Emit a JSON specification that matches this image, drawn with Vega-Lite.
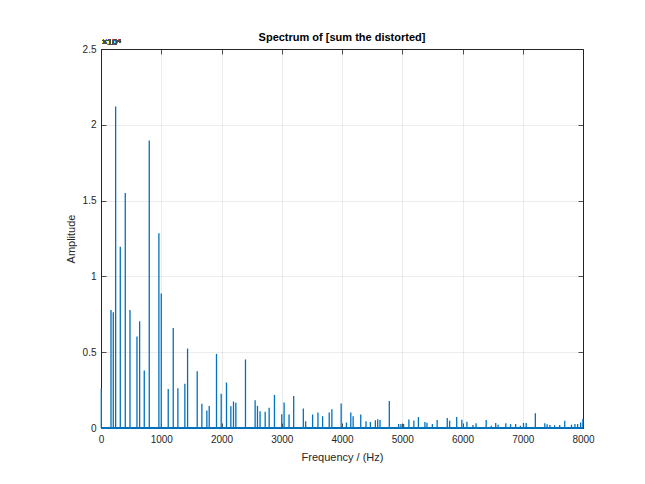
{
  "$schema": "https://vega.github.io/schema/vega-lite/v6.json",
  "width": 482,
  "height": 379,
  "autosize": "none",
  "padding": {"left": 101, "top": 49, "right": 62, "bottom": 56},
  "background": "white",
  "config": {
    "font": "Liberation Sans",
    "view": {"stroke": "#262626", "strokeWidth": 1},
    "axis": {
      "domain": false,
      "gridColor": "#262626",
      "gridOpacity": 0.15,
      "gridWidth": 0.6,
      "tickColor": "#262626",
      "tickSize": 5,
      "tickWidth": 0.8,
      "labelFlush": false,
      "labelColor": "#262626",
      "labelFont": "Liberation Sans",
      "labelFontSize": 10,
      "titleColor": "#262626",
      "titleFont": "Liberation Sans",
      "titleFontSize": 11,
      "titleFontWeight": "normal"
    },
    "title": {"font": "Liberation Sans", "fontSize": 11, "fontWeight": "bold", "color": "#000000"}
  },
  "title": {"text": "Spectrum of [sum the distorted]", "anchor": "middle", "offset": -5},
  "data": {
    "values": [
      {"f": 5, "a": 2600}, {"f": 166, "a": 7790}, {"f": 204, "a": 7630}, {"f": 243, "a": 21200},
      {"f": 320, "a": 11950}, {"f": 403, "a": 15500}, {"f": 481, "a": 7790}, {"f": 597, "a": 6030},
      {"f": 641, "a": 7040}, {"f": 718, "a": 3790}, {"f": 801, "a": 18970}, {"f": 961, "a": 12850},
      {"f": 1000, "a": 8880}, {"f": 1116, "a": 2570}, {"f": 1199, "a": 6600}, {"f": 1276, "a": 2630},
      {"f": 1392, "a": 2920}, {"f": 1437, "a": 5240}, {"f": 1597, "a": 3750}, {"f": 1674, "a": 1600},
      {"f": 1757, "a": 1160}, {"f": 1796, "a": 1450}, {"f": 1917, "a": 4890}, {"f": 1995, "a": 2260},
      {"f": 2083, "a": 3000}, {"f": 2155, "a": 1430}, {"f": 2199, "a": 1750}, {"f": 2238, "a": 1670},
      {"f": 2398, "a": 4520}, {"f": 2558, "a": 1830}, {"f": 2597, "a": 1460}, {"f": 2640, "a": 1100},
      {"f": 2725, "a": 1070}, {"f": 2791, "a": 1330}, {"f": 2879, "a": 2180}, {"f": 3000, "a": 910},
      {"f": 3039, "a": 1690}, {"f": 3121, "a": 890}, {"f": 3198, "a": 2110}, {"f": 3358, "a": 1290},
      {"f": 3397, "a": 440}, {"f": 3512, "a": 890}, {"f": 3601, "a": 1020}, {"f": 3678, "a": 780},
      {"f": 3788, "a": 1020}, {"f": 3832, "a": 1240}, {"f": 3986, "a": 1620}, {"f": 4074, "a": 360},
      {"f": 4146, "a": 1020}, {"f": 4185, "a": 780}, {"f": 4311, "a": 890}, {"f": 4399, "a": 440},
      {"f": 4471, "a": 400}, {"f": 4554, "a": 510}, {"f": 4593, "a": 580}, {"f": 4631, "a": 530},
      {"f": 4785, "a": 1780}, {"f": 4940, "a": 270}, {"f": 4978, "a": 270}, {"f": 5022, "a": 270},
      {"f": 5110, "a": 560}, {"f": 5193, "a": 490}, {"f": 5268, "a": 720}, {"f": 5376, "a": 400},
      {"f": 5410, "a": 350}, {"f": 5500, "a": 260}, {"f": 5579, "a": 530}, {"f": 5747, "a": 660},
      {"f": 5786, "a": 480}, {"f": 5904, "a": 730}, {"f": 5989, "a": 550}, {"f": 6073, "a": 420},
      {"f": 6174, "a": 200}, {"f": 6225, "a": 310}, {"f": 6393, "a": 530}, {"f": 6478, "a": 150},
      {"f": 6551, "a": 330}, {"f": 6590, "a": 220}, {"f": 6719, "a": 310}, {"f": 6798, "a": 260},
      {"f": 6882, "a": 260}, {"f": 6961, "a": 150}, {"f": 7012, "a": 330}, {"f": 7057, "a": 330},
      {"f": 7209, "a": 970}, {"f": 7366, "a": 310}, {"f": 7405, "a": 240}, {"f": 7450, "a": 200},
      {"f": 7529, "a": 180}, {"f": 7613, "a": 200}, {"f": 7697, "a": 480}, {"f": 7809, "a": 220},
      {"f": 7866, "a": 260}, {"f": 7911, "a": 260}, {"f": 7961, "a": 370}, {"f": 7998, "a": 600}
    ]
  },
  "resolve": {"axis": {"x": "independent", "y": "independent"}},
  "layer": [
    {
      "mark": {"type": "rule", "color": "#0072BD", "strokeWidth": 1.3},
      "encoding": {
        "x": {
          "field": "f", "type": "quantitative",
          "scale": {"domain": [0, 8000], "nice": false, "zero": false},
          "axis": {"values": [0, 1000, 2000, 3000, 4000, 5000, 6000, 7000, 8000], "title": "Frequency / (Hz)", "ticks": false, "labelPadding": 6, "titlePadding": 7, "format": "d"}
        },
        "y": {
          "field": "a", "type": "quantitative",
          "scale": {"domain": [0, 25000], "nice": false},
          "axis": {"values": [0, 5000, 10000, 15000, 20000, 25000], "title": "Amplitude", "ticks": false, "labelPadding": 5, "titlePadding": 6, "labelExpr": "format(datum.value / 10000, '')"}
        },
        "y2": {"datum": 0}
      }
    },
    {
      "mark": {"type": "rule", "opacity": 0},
      "encoding": {
        "x": {"field": "f", "type": "quantitative", "scale": {"domain": [0, 8000], "nice": false, "zero": false}, "axis": {"orient": "top", "labels": false, "title": null, "grid": false, "offset": -5, "values": [0, 1000, 2000, 3000, 4000, 5000, 6000, 7000, 8000]}},
        "y": {"field": "a", "type": "quantitative", "scale": {"domain": [0, 25000], "nice": false}, "axis": {"orient": "right", "labels": false, "title": null, "grid": false, "offset": -5, "values": [0, 5000, 10000, 15000, 20000, 25000]}}
      }
    },
    {
      "mark": {"type": "rule", "opacity": 0},
      "encoding": {
        "x": {"field": "f", "type": "quantitative", "scale": {"domain": [0, 8000], "nice": false, "zero": false}, "axis": {"orient": "bottom", "labels": false, "title": null, "grid": false, "offset": -5, "values": [0, 1000, 2000, 3000, 4000, 5000, 6000, 7000, 8000]}},
        "y": {"field": "a", "type": "quantitative", "scale": {"domain": [0, 25000], "nice": false}, "axis": {"orient": "left", "labels": false, "title": null, "grid": false, "offset": -5, "values": [0, 5000, 10000, 15000, 20000, 25000]}}
      }
    },
    {
      "mark": {"type": "rule", "color": "#0072BD", "strokeWidth": 1.3},
      "encoding": {
        "x": {"datum": 0, "type": "quantitative", "scale": {"domain": [0, 8000], "nice": false, "zero": false}, "axis": null},
        "x2": {"datum": 8000},
        "y": {"datum": 0, "type": "quantitative", "scale": {"domain": [0, 25000], "nice": false}, "axis": null}
      }
    },
    {
      "mark": {"type": "text", "text": "×10⁴", "align": "left", "baseline": "bottom", "dx": 1, "dy": -2, "fontSize": 9, "color": "#4d4d4d", "font": "Liberation Sans"},
      "encoding": {
        "x": {"datum": 0, "type": "quantitative", "scale": {"domain": [0, 8000], "nice": false, "zero": false}, "axis": null},
        "y": {"datum": 25000, "type": "quantitative", "scale": {"domain": [0, 25000], "nice": false}, "axis": null}
      }
    }
  ]
}
